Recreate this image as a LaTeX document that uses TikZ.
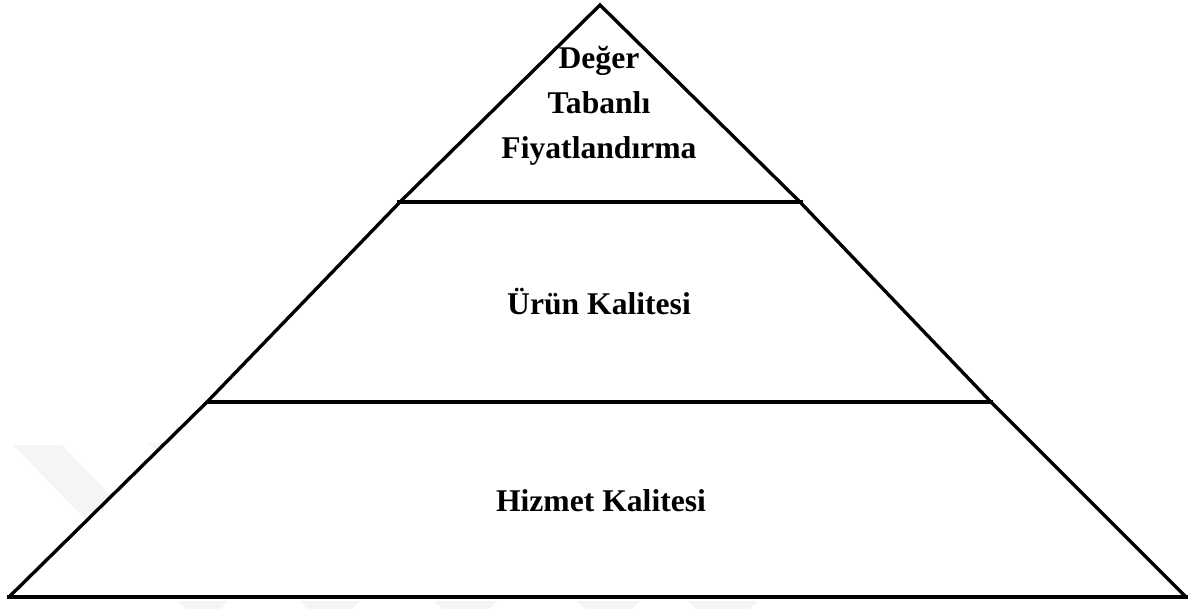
\documentclass[tikz,border=0pt]{standalone}
\usepackage{fontspec}
\setmainfont{Liberation Serif}[BoldFont={Liberation Serif Bold}]
\begin{document}
\begin{tikzpicture}[x=0.02cm,y=-0.02cm,
  side/.style={line width=1.9pt,line join=miter},
  tierline/.style={line width=2.4pt},
  baseline/.style={line width=2.8pt},
  wmark/.style={fill=black!4,draw=none},
  tierlabel/.style={font=\fontsize{18}{25.5}\selectfont\bfseries,align=center,inner sep=0pt}]
  \useasboundingbox (0,0) rectangle (1194,609);
  % faint background marks
  \fill[wmark] (13,445) -- (62,445) -- (112,497) -- (88,522) -- cycle;
  \fill[wmark] (147,443) -- (165,443) -- (160,452) -- cycle;
  \foreach \a/\b in {178/228,300/360,435/497,577/640,688/757}
    \fill[wmark] (\a,601) -- (\b,601) -- (\b-8,609) -- (\a+8,609) -- cycle;
  % outline corners
  \coordinate (apex) at (600,5);
  \coordinate (l1) at (400,202);  \coordinate (r1) at (800,202);
  \coordinate (l2) at (207,402);  \coordinate (r2) at (991,402);
  \coordinate (l3) at (9,597);    \coordinate (r3) at (1186,597);
  \fill[white] (apex) -- (l1) -- (l2) -- (l3) -- (r3) -- (r2) -- (r1) -- cycle;
  % sides of each tier
  \draw[side] (l1) -- (apex) -- (r1);
  \draw[side] (l1) -- (l2) -- (l3);
  \draw[side] (r1) -- (r2) -- (r3);
  % tier separators and base
  \draw[tierline] (397,202) -- (803,202);
  \draw[tierline] (206,402) -- (993,402);
  \draw[baseline] (7,597) -- (1188,597);
  % labels
  \node[tierlabel] (top) at (599,106) {Değer\\Tabanlı\\Fiyatlandırma};
  \node[tierlabel] (mid) at (599,302) {Ürün Kalitesi};
  \node[tierlabel] (bot) at (601,501) {Hizmet Kalitesi};
\end{tikzpicture}
\end{document}
